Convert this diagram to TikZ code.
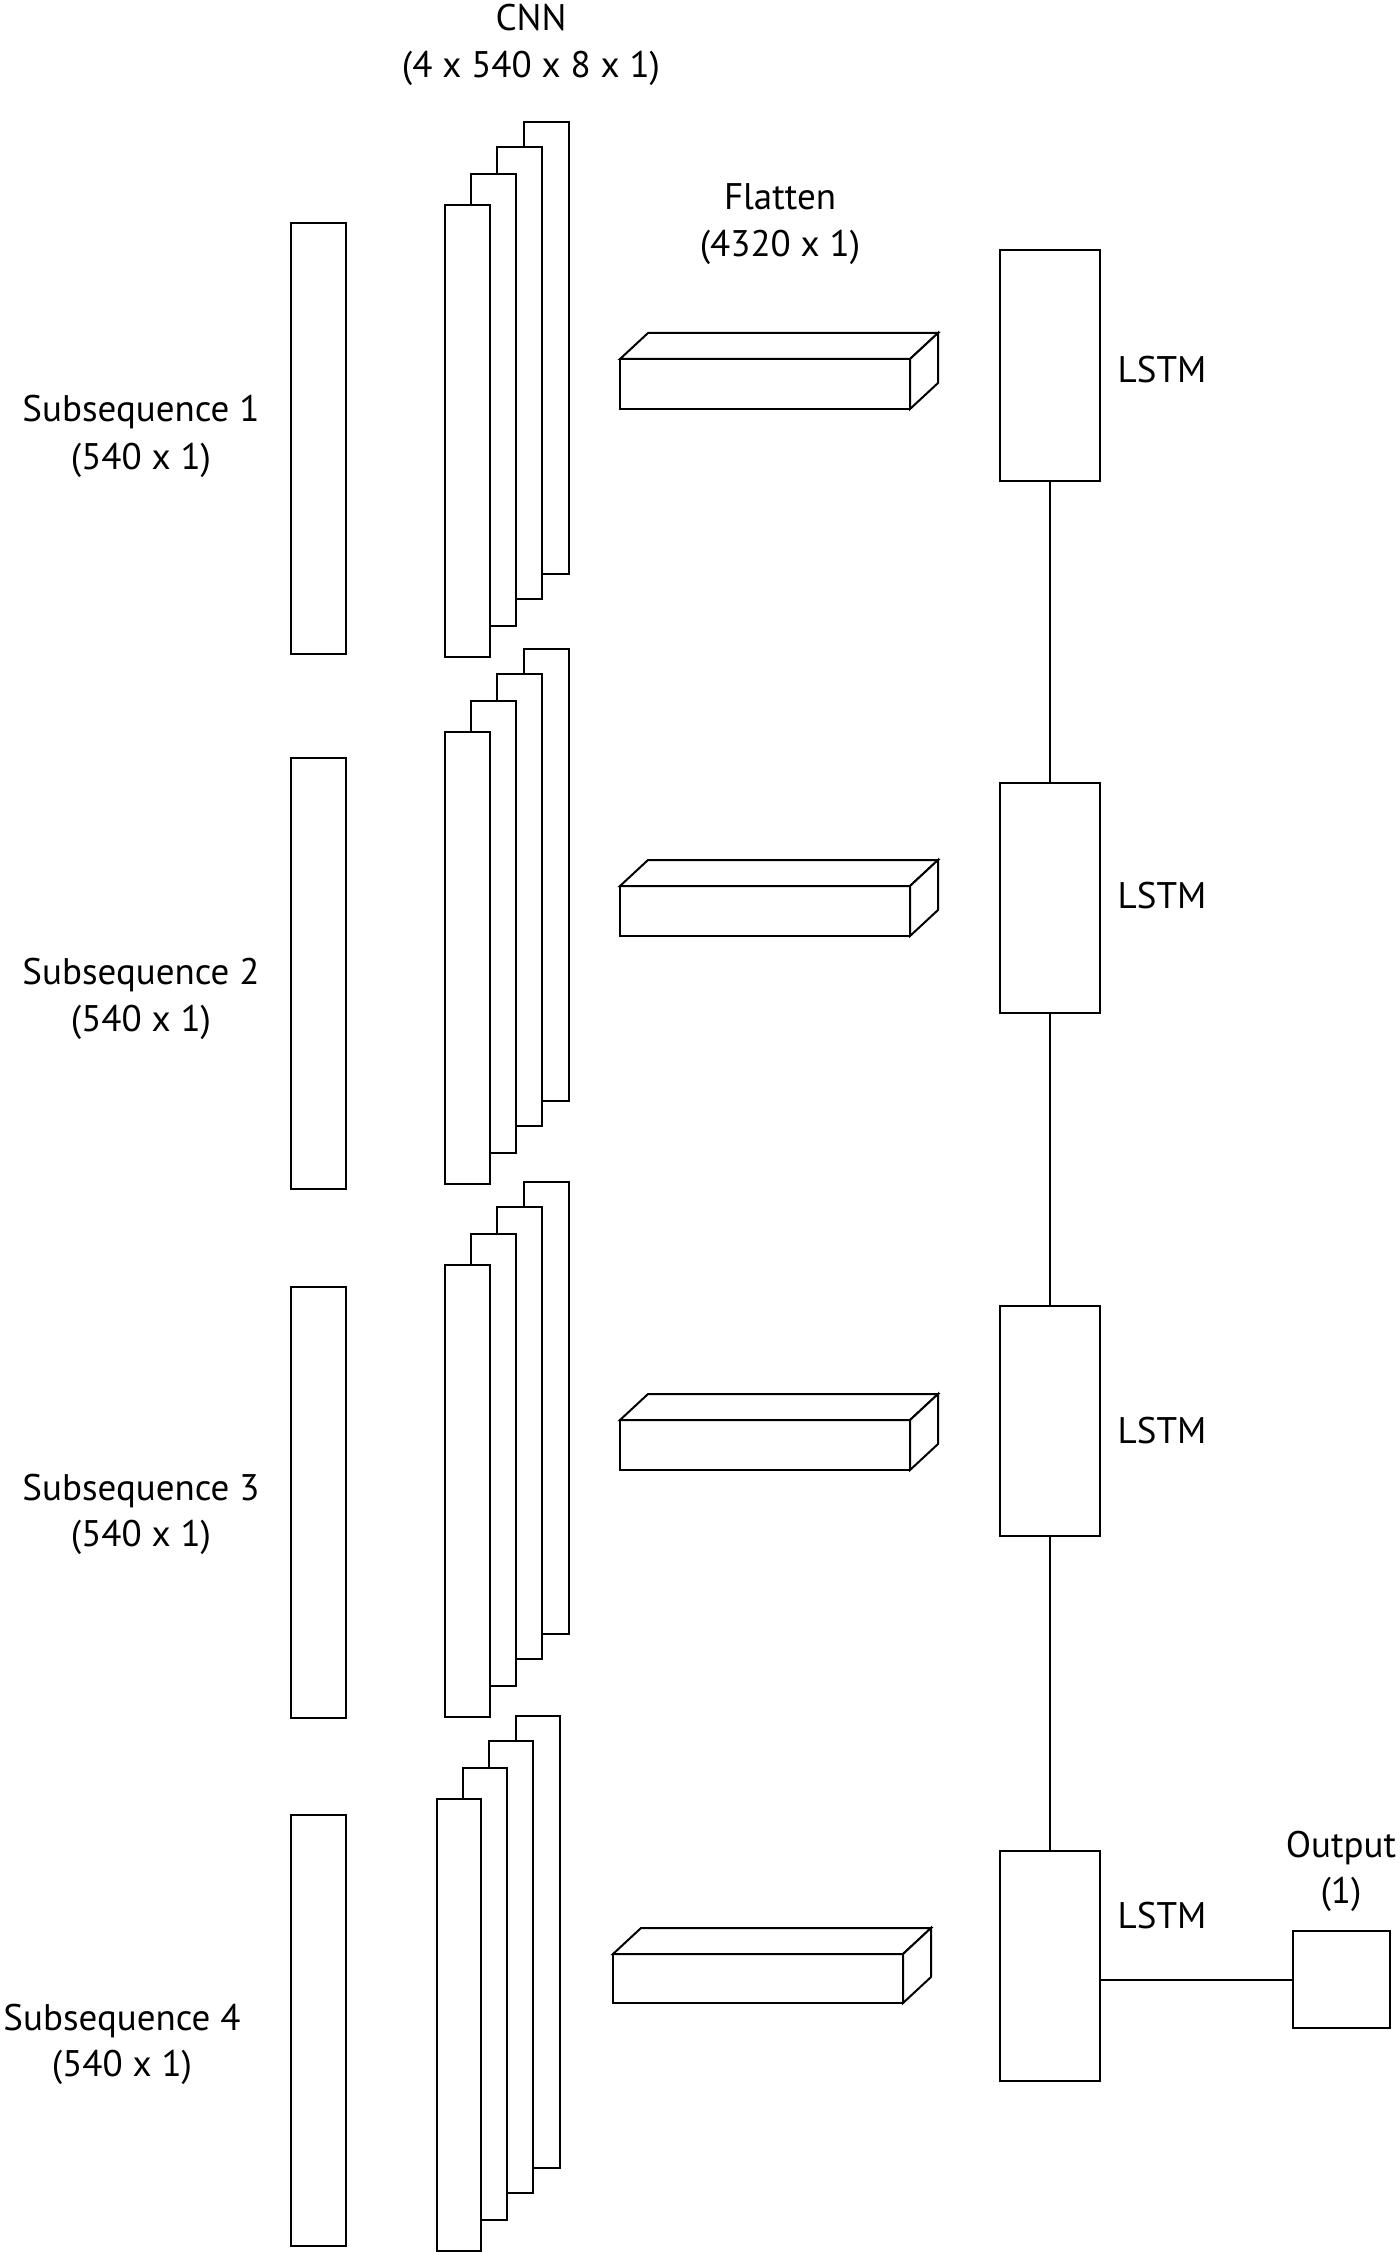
\documentclass[tikz,border=0pt]{standalone}
\usepackage{fontspec}
\setmainfont{PT Sans}
\tikzset{
  box/.style={draw, line width=1pt, fill=white, inner sep=0pt, outer sep=0pt},
  plate/.style={draw, line width=1pt, fill=white, line join=miter},
  lbl/.style={font=\fontsize{18.5}{23}\selectfont, anchor=base, inner sep=0pt},
  link/.style={line width=1pt},
}
\newcommand\cnnstack[2]{%
  \foreach \dx/\dy in {79/-83,52/-58,26/-31,0/0}{%
    \draw[plate] ({#1+\dx},{#2+\dy}) rectangle ++(44.5,452);
  }%
}
\newcommand\flatbox[4]{%
  \draw[plate] (#1,#2) rectangle (#3,#4);
  \draw[plate] (#1,#2) -- ++(28,-26) -- ({#3+28},{#2-26}) -- (#3,#2) -- cycle;
  \draw[plate] (#3,#2) -- ++(28,-26) -- ({#3+28},{#4-26}) -- (#3,#4) -- cycle;
}
\begin{document}
\begin{tikzpicture}[x=0.5pt,y=-0.5pt]
\useasboundingbox (0,0) rectangle (1400,2252);
\fill[white] (0,0) rectangle (1400,2252);

% input subsequences
\node[box, minimum width=27.5pt, minimum height=215.5pt] (sub1) at (318.5,438.5) {};
\node[box, minimum width=27.5pt, minimum height=215.5pt] (sub2) at (318.5,973.5) {};
\node[box, minimum width=27.5pt, minimum height=215.5pt] (sub3) at (318.5,1502.5) {};
\node[box, minimum width=27.5pt, minimum height=215.5pt] (sub4) at (318.5,2030.5) {};

% CNN stacks
\cnnstack{445}{205}
\cnnstack{445}{732}
\cnnstack{445}{1265}
\cnnstack{436.5}{1799}

% flatten boxes
\flatbox{620}{359}{910}{409}
\flatbox{620}{886}{910}{936}
\flatbox{620}{1420}{910}{1470}
\flatbox{613}{1954}{903}{2003}

% LSTM boxes
\node[box, minimum width=50pt, minimum height=115pt] (lstm1) at (1050,365.5) {};
\node[box, minimum width=50pt, minimum height=115pt] (lstm2) at (1050,898) {};
\node[box, minimum width=50pt, minimum height=115pt] (lstm3) at (1050,1420.5) {};
\node[box, minimum width=50pt, minimum height=115pt] (lstm4) at (1050,1966) {};
\node[box, minimum width=48.5pt, minimum height=48.5pt] (out) at (1341.5,1979.5) {};

\draw[link] (lstm1.south) -- (lstm2.north);
\draw[link] (lstm2.south) -- (lstm3.north);
\draw[link] (lstm3.south) -- (lstm4.north);
\draw[link] (out.west -| lstm4.east) -- (out.west);

% labels
\node[lbl] (cnnA) at (531,31) {CNN};
\node[lbl] (cnnB) at (531,78) {(4 x 540 x 8 x 1)};
\node[lbl] (flA) at (780,210) {Flatten};
\node[lbl] (flB) at (780,257) {(4320 x 1)};
\node[lbl] (s1A) at (141,422) {Subsequence 1};
\node[lbl] (s1B) at (141,469) {(540 x 1)};
\node[lbl] (s2A) at (141,984) {Subsequence 2};
\node[lbl] (s2B) at (141,1031) {(540 x 1)};
\node[lbl] (s3A) at (141,1500) {Subsequence 3};
\node[lbl] (s3B) at (141,1546) {(540 x 1)};
\node[lbl] (s4A) at (122,2030) {Subsequence 4};
\node[lbl] (s4B) at (122,2076) {(540 x 1)};
\node[lbl] (l1) at (1162,383) {LSTM};
\node[lbl] (l2) at (1162,908) {LSTM};
\node[lbl] (l3) at (1162,1443) {LSTM};
\node[lbl] (l4) at (1162,1928) {LSTM};
\node[lbl] (oA) at (1341,1857) {Output};
\node[lbl] (oB) at (1341,1903) {(1)};
\end{tikzpicture}
\end{document}
